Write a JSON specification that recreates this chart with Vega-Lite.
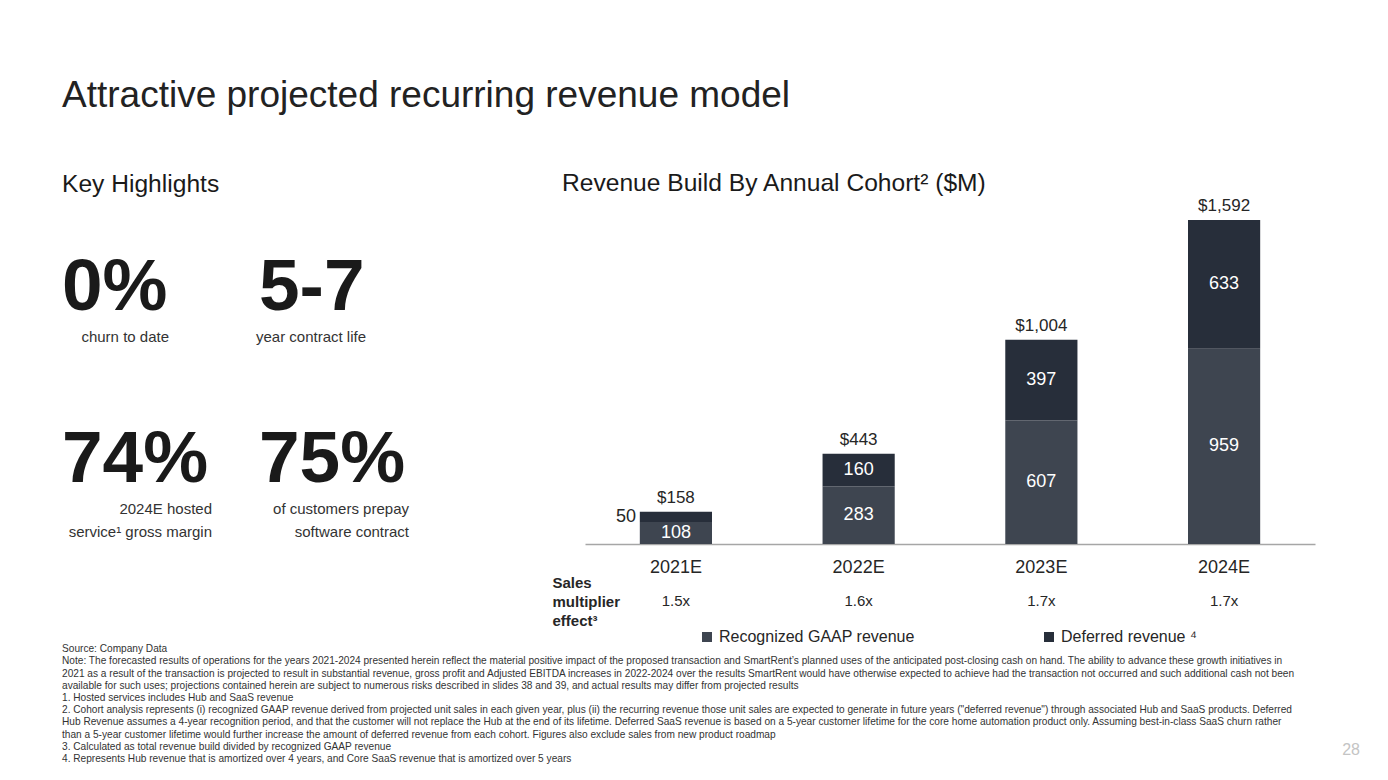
{
  "$schema": "https://vega.github.io/schema/vega-lite/v6.json",
  "background": "white",
  "padding": {"left": 62, "top": 77, "right": 0, "bottom": 0},
  "config": {"view": {"stroke": null}, "font": "Liberation Sans"},
  "title": {"text": "Attractive projected recurring revenue model", "anchor": "start", "fontSize": 37, "fontWeight": "normal", "color": "#222222", "font": "Liberation Sans", "offset": 56},
  "datasets": {
    "highlights": [
      {"figure": "0%", "caption": "churn to date", "column": "left", "row": "top"},
      {"figure": "5-7", "caption": "year contract life", "column": "right", "row": "top"},
      {"figure": "74%", "caption": "2024E hosted\nservice¹ gross margin", "column": "left", "row": "bottom"},
      {"figure": "75%", "caption": "of customers prepay\nsoftware contract", "column": "right", "row": "bottom"}
    ],
    "cohorts": [
      {"year": "2021E", "series": "Recognized GAAP revenue", "revenue": 108},
      {"year": "2021E", "series": "Deferred revenue", "revenue": 50},
      {"year": "2022E", "series": "Recognized GAAP revenue", "revenue": 283},
      {"year": "2022E", "series": "Deferred revenue", "revenue": 160},
      {"year": "2023E", "series": "Recognized GAAP revenue", "revenue": 607},
      {"year": "2023E", "series": "Deferred revenue", "revenue": 397},
      {"year": "2024E", "series": "Recognized GAAP revenue", "revenue": 959},
      {"year": "2024E", "series": "Deferred revenue", "revenue": 633}
    ],
    "totals": [
      {"year": "2021E", "total": 158},
      {"year": "2022E", "total": 443},
      {"year": "2023E", "total": 1004},
      {"year": "2024E", "total": 1592}
    ],
    "multipliers": [
      {"year": "2021E", "multiplier": "1.5x"},
      {"year": "2022E", "multiplier": "1.6x"},
      {"year": "2023E", "multiplier": "1.7x"},
      {"year": "2024E", "multiplier": "1.7x"}
    ],
    "footnotes": [
      {"line": 1, "text": "Source: Company Data"},
      {"line": 2, "text": "Note: The forecasted results of operations for the years 2021-2024 presented herein reflect the material positive impact of the proposed transaction and SmartRent’s planned uses of the anticipated post-closing cash on hand. The ability to advance these growth initiatives in"},
      {"line": 3, "text": "2021 as a result of the transaction is projected to result in substantial revenue, gross profit and Adjusted EBITDA increases in 2022-2024 over the results SmartRent would have otherwise expected to achieve had the transaction not occurred and such additional cash not been"},
      {"line": 4, "text": "available for such uses; projections contained herein are subject to numerous risks described in slides 38 and 39, and actual results may differ from projected results"},
      {"line": 5, "text": "1. Hosted services includes Hub and SaaS revenue"},
      {"line": 6, "text": "2. Cohort analysis represents (i) recognized GAAP revenue derived from projected unit sales in each given year, plus (ii) the recurring revenue those unit sales are expected to generate in future years (\"deferred revenue\") through associated Hub and SaaS products. Deferred"},
      {"line": 7, "text": "Hub Revenue assumes a 4-year recognition period, and that the customer will not replace the Hub at the end of its lifetime. Deferred SaaS revenue is based on a 5-year customer lifetime for the core home automation product only. Assuming best-in-class SaaS churn rather"},
      {"line": 8, "text": "than a 5-year customer lifetime would further increase the amount of deferred revenue from each cohort. Figures also exclude sales from new product roadmap"},
      {"line": 9, "text": "3. Calculated as total revenue build divided by recognized GAAP revenue"},
      {"line": 10, "text": "4. Represents Hub revenue that is amortized over 4 years, and Core SaaS revenue that is amortized over 5 years"}
    ],
    "page": [{"page": "28"}]
  },
  "spacing": 15,
  "vconcat": [
    {
      "hconcat": [
        {
          "width": 197,
          "height": 324,
          "title": {"text": "Key Highlights", "anchor": "start", "frame": "group", "fontSize": 24.6, "fontWeight": "normal", "color": "#1a1a1a", "offset": 22},
          "data": {"name": "highlights"},
          "encoding": {
            "x": {"field": "column", "type": "nominal", "axis": null, "scale": {"type": "point", "domain": ["left", "right"], "padding": 0}},
            "y": {"field": "row", "type": "nominal", "axis": null, "scale": {"type": "point", "domain": ["top", "bottom"], "padding": 0.442}}
          },
          "layer": [
            {
              "mark": {"type": "text", "align": "left", "baseline": "alphabetic", "dy": 14, "fontSize": 73, "fontWeight": "bold", "color": "#1a1a1a"},
              "encoding": {"text": {"field": "figure"}}
            },
            {
              "transform": [{"filter": "datum.row == 'top'"}],
              "mark": {"type": "text", "align": "right", "baseline": "alphabetic", "dx": 107, "dy": 46, "fontSize": 15, "color": "#333333", "lineBreak": "\n", "lineHeight": 23},
              "encoding": {"text": {"field": "caption"}}
            },
            {
              "transform": [{"filter": "datum.row == 'bottom'"}],
              "mark": {"type": "text", "align": "right", "baseline": "alphabetic", "dx": 150, "dy": 46, "fontSize": 15, "color": "#333333", "lineBreak": "\n", "lineHeight": 23},
              "encoding": {"text": {"field": "caption"}}
            }
          ]
        },
        {
          "width": 730,
          "height": 324,
          "title": {"text": "Revenue Build By Annual Cohort² ($M)", "anchor": "start", "frame": "group", "dx": -23, "fontSize": 24.6, "fontWeight": "normal", "color": "#1a1a1a", "offset": 0},
          "encoding": {
            "x": {
              "field": "year", "type": "nominal",
              "scale": {"type": "band", "paddingInner": 0.605, "paddingOuter": 0.3},
              "axis": {
                "title": ["Sales", "multiplier", "effect³"],
                "titleFontSize": 15, "titleFontWeight": "bold", "titleColor": "#262626",
                "titleAlign": "left", "titleBaseline": "top", "titleX": -33, "titleY": 31, "titleLineHeight": 19,
                "labelFontSize": 18, "labelColor": "#262626", "labelPadding": 14, "labelAngle": 0,
                "ticks": false, "grid": false, "domainColor": "#a6a6a6", "domainWidth": 1.5
              }
            }
          },
          "layer": [
            {
              "data": {"name": "cohorts"},
              "transform": [
                {"stack": "revenue", "groupby": ["year"], "sort": [{"field": "series", "order": "descending"}], "as": ["r0", "r1"]},
                {"calculate": "(datum.r0 + datum.r1) / 2", "as": "mid"}
              ],
              "layer": [
                {
                  "mark": {"type": "bar"},
                  "encoding": {
                    "y": {"field": "r1", "type": "quantitative", "scale": {"domain": [0, 1592], "nice": false}, "axis": null},
                    "y2": {"field": "r0"},
                    "color": {
                      "field": "series", "type": "nominal",
                      "scale": {"domain": ["Recognized GAAP revenue", "Deferred revenue"], "range": ["#3e4550", "#272e3a"]},
                      "legend": {
                        "orient": "none", "legendX": 637, "legendY": 409, "direction": "horizontal",
                        "title": null, "symbolType": "square", "symbolSize": 100, "symbolStrokeWidth": 0,
                        "labelFontSize": 16, "labelColor": "#262626", "labelOffset": 4, "columnPadding": 126, "labelLimit": 400,
                        "labelExpr": "datum.label == 'Deferred revenue' ? 'Deferred revenue ⁴' : datum.label"
                      }
                    }
                  }
                },
                {
                  "transform": [{"filter": "datum.revenue >= 100"}],
                  "mark": {"type": "text", "color": "white", "fontSize": 18, "baseline": "middle"},
                  "encoding": {"y": {"field": "mid", "type": "quantitative"}, "text": {"field": "revenue"}}
                },
                {
                  "transform": [{"filter": "datum.revenue < 100"}],
                  "mark": {"type": "text", "color": "#262626", "fontSize": 18, "baseline": "middle", "align": "right", "dx": -40},
                  "encoding": {"y": {"field": "mid", "type": "quantitative"}, "text": {"field": "revenue"}}
                }
              ]
            },
            {
              "data": {"name": "totals"},
              "mark": {"type": "text", "fontSize": 17, "color": "#262626", "baseline": "alphabetic", "dy": -9},
              "encoding": {"y": {"field": "total", "type": "quantitative"}, "text": {"field": "total", "format": "$,d"}}
            },
            {
              "data": {"name": "multipliers"},
              "mark": {"type": "text", "fontSize": 15, "color": "#262626", "baseline": "alphabetic", "dy": 62},
              "encoding": {"y": {"datum": 0, "type": "quantitative"}, "text": {"field": "multiplier"}}
            }
          ]
        }
      ],
      "spacing": 326,
      "bounds": "flush"
    },
    {
      "width": 1298,
      "height": 122,
      "layer": [
        {
          "data": {"name": "footnotes"},
          "mark": {"type": "text", "align": "left", "baseline": "middle", "fontSize": 10.15, "color": "#333333"},
          "encoding": {
            "y": {"field": "line", "type": "ordinal", "axis": null, "scale": {"type": "point", "padding": 0.5}},
            "x": {"datum": 0, "type": "quantitative", "scale": {"domain": [0, 1]}, "axis": null},
            "text": {"field": "text"}
          }
        },
        {
          "data": {"name": "page"},
          "mark": {"type": "text", "align": "right", "baseline": "middle", "fontSize": 16, "color": "#c4c4c4", "dy": 3},
          "encoding": {
            "y": {"datum": 9, "type": "ordinal"},
            "x": {"datum": 1, "type": "quantitative"},
            "text": {"field": "page"}
          }
        }
      ]
    }
  ]
}
